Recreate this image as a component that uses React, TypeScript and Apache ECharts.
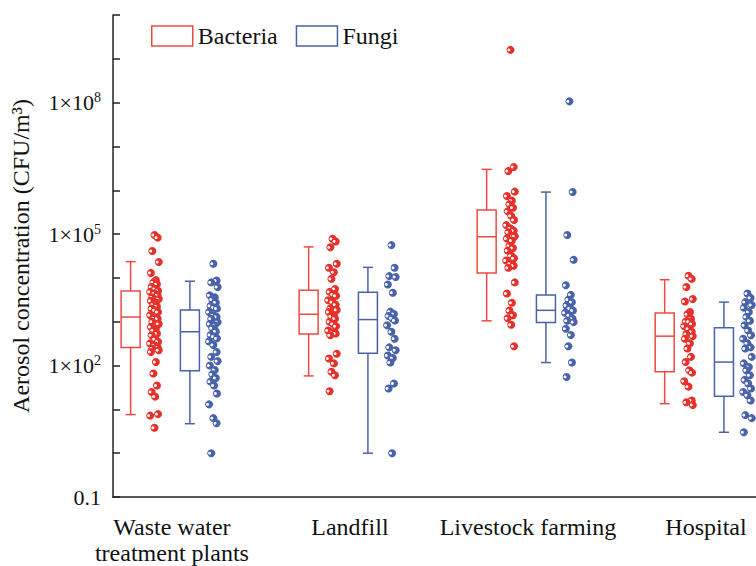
import React, { useEffect, useRef } from 'react';
import * as echarts from 'echarts';

// ---------- data ----------
const categories = ['Waste water\ntreatment plants', 'Landfill', 'Livestock farming', 'Hospital'];
const seriesNames = ['Bacteria', 'Fungi'];
const yLabelTicks = [0.1, 1e2, 1e5, 1e8];
const yMinorTicks = [0.1, 1, 10, 1e2, 1e3, 1e4, 1e5, 1e6, 1e7, 1e8, 1e9, 1e10];

// box statistics per category: [lower whisker, Q1, median, Q3, upper whisker]
const bacteriaBoxes = [
  [7.6, 257, 1280, 5000, 23500],
  [58, 525, 1480, 5250, 51000],
  [1050, 12900, 87000, 355000, 3000000],
  [13.5, 72, 468, 1580, 9100],
];
const fungiBoxes = [
  [4.7, 76, 590, 1860, 8400],
  [1, 190, 1120, 4700, 17400],
  [117, 955, 1820, 4070, 910000],
  [3.0, 20, 120, 725, 2800],
];

// individual observations
const wwtpBacteria = [95000, 83000, 41000, 23000, 13000, 8900, 7900, 7200, 6200, 5600, 5100, 4800, 4400, 4000, 3600, 3300, 3000, 2750, 2450, 2240, 2000, 1820, 1660, 1410, 1200, 1170, 1000, 890, 760, 690, 630, 540, 490, 400, 350, 320, 290, 260, 245, 224, 204, 120, 66, 35, 25, 19.5, 7.8, 7.2, 3.8];
const wwtpFungi = [21000, 8700, 7900, 6200, 4000, 3600, 3200, 2750, 2300, 2100, 2000, 1660, 1400, 1290, 1170, 980, 890, 830, 710, 600, 500, 457, 417, 355, 295, 204, 158, 126, 100, 79, 63, 52, 43, 35, 23, 13, 6.3, 4.8, 1];
const landfillBacteria = [78000, 68000, 50000, 21000, 17000, 13500, 9500, 5600, 4800, 4200, 3900, 3100, 2800, 2450, 2000, 1860, 1660, 1400, 1320, 1170, 1000, 890, 790, 630, 575, 540, 490, 186, 145, 112, 72, 60, 26];
const landfillFungi = [56000, 17000, 11000, 10500, 7100, 4600, 1700, 1500, 1350, 1200, 1070, 830, 590, 410, 260, 224, 170, 148, 117, 39, 30, 1];
const livestockBacteria = [1.6e9, 3.4e6, 2.75e6, 930000, 740000, 580000, 480000, 400000, 330000, 260000, 210000, 160000, 135000, 120000, 110000, 89000, 79000, 71000, 54000, 48000, 42000, 32000, 28000, 25000, 21000, 19000, 17000, 7900, 4400, 2700, 1800, 1400, 1200, 850, 275];
const livestockFungi = [1.07e8, 910000, 95000, 26000, 6800, 4100, 3200, 2800, 2350, 2000, 1800, 1600, 1400, 1170, 1050, 980, 690, 500, 275, 117, 55];
const hospitalBacteria = [11200, 9500, 6200, 3300, 2900, 1660, 1480, 1170, 1000, 1000, 890, 790, 690, 590, 525, 470, 410, 320, 245, 158, 120, 78, 69, 44, 33, 16, 14.5, 12.6];
const hospitalFungi = [4400, 3500, 2800, 2400, 2100, 1660, 1290, 1050, 830, 630, 490, 410, 320, 260, 245, 158, 112, 93, 78, 60, 47, 39, 30, 25, 21, 16, 7.4, 6.3, 3.0];

const bacteriaPoints = [wwtpBacteria, landfillBacteria, livestockBacteria, hospitalBacteria];
const fungiPoints = [wwtpFungi, landfillFungi, livestockFungi, hospitalFungi];

// ---------- styling / layout ----------
const RED = '#e8302a';
const RED_BOX = '#ee4a43';
const BLUE = '#4863aa';
const BLUE_BOX = '#4a62a8';
const FONT = "'Liberation Serif', 'Times New Roman', Times, serif";
const OFF = { bBox: -0.232, fBox: 0.101, bDots: -0.098, fDots: 0.233 };
const JITTER = [0, 0.018, -0.012, 0.024, -0.02, 0.008, -0.006, 0.014, -0.016, 0.004, 0.02, -0.024];
const X_MIN = -0.331;
const X_MAX = 3.281;

function dotColor(c: string) {
  return new echarts.graphic.RadialGradient(0.3, 0.5, 0.62, [
    { offset: 0, color: '#ffffff' },
    { offset: 0.2, color: '#ffffff' },
    { offset: 0.38, color: c },
    { offset: 1, color: c },
  ]);
}

function boxSeries(name: string, boxes: number[][], off: number, color: string) {
  return {
    name,
    type: 'custom',
    data: boxes.map((b, i) => [i + off, ...b]),
    encode: { x: 0, y: [1, 2, 3, 4, 5] },
    renderItem: (params: any, api: any) => {
      const x = api.value(0);
      const pMin = api.coord([x, api.value(1)]);
      const pQ1 = api.coord([x, api.value(2)]);
      const pMed = api.coord([x, api.value(3)]);
      const pQ3 = api.coord([x, api.value(4)]);
      const pMax = api.coord([x, api.value(5)]);
      const hw = 9.5;
      const cap = 5;
      const st = { stroke: color, lineWidth: 1.5, fill: 'none' };
      return {
        type: 'group',
        children: [
          { type: 'line', shape: { x1: pMin[0], y1: pMin[1], x2: pQ1[0], y2: pQ1[1] }, style: st },
          { type: 'line', shape: { x1: pQ3[0], y1: pQ3[1], x2: pMax[0], y2: pMax[1] }, style: st },
          { type: 'line', shape: { x1: pMin[0] - cap, y1: pMin[1], x2: pMin[0] + cap, y2: pMin[1] }, style: st },
          { type: 'line', shape: { x1: pMax[0] - cap, y1: pMax[1], x2: pMax[0] + cap, y2: pMax[1] }, style: st },
          { type: 'rect', shape: { x: pQ1[0] - hw, y: pQ3[1], width: hw * 2, height: pQ1[1] - pQ3[1] }, style: { stroke: color, lineWidth: 1.5, fill: '#ffffff' } },
          { type: 'line', shape: { x1: pMed[0] - hw, y1: pMed[1], x2: pMed[0] + hw, y2: pMed[1] }, style: st },
        ],
      };
    },
    z: 2,
  };
}

function dotSeries(name: string, groups: number[][], off: number, color: string) {
  const data: number[][] = [];
  groups.forEach((vals, g) => {
    vals.forEach((v, i) => data.push([g + off + JITTER[i % JITTER.length], v]));
  });
  return {
    name,
    type: 'scatter',
    data,
    symbol: 'circle',
    symbolSize: 8,
    itemStyle: { color: dotColor(color), opacity: 1 },
    z: 3,
  };
}

export default function App() {
  const ref = useRef<HTMLDivElement>(null);
  useEffect(() => {
    if (!ref.current) return;
    const chart = echarts.init(ref.current, null, { renderer: 'svg' });
    chart.setOption({
      animation: false,
      backgroundColor: '#ffffff',
      textStyle: { fontFamily: FONT },
      legend: {
        left: 146,
        top: 19,
        itemWidth: 41,
        itemHeight: 20,
        itemGap: 18,
        textStyle: { fontFamily: FONT, fontSize: 24, color: '#111' },
        data: [
          { name: seriesNames[0], icon: 'rect', itemStyle: { color: '#ffffff', borderColor: RED_BOX, borderWidth: 1.5 } },
          { name: seriesNames[1], icon: 'rect', itemStyle: { color: '#ffffff', borderColor: BLUE_BOX, borderWidth: 1.5 } },
        ],
      },
      grid: { left: 113, top: 15, right: 0, height: 484 },
      xAxis: {
        type: 'value',
        min: X_MIN,
        max: X_MAX,
        splitLine: { show: false },
        axisTick: { show: false },
        axisLine: { show: true, onZero: false, lineStyle: { color: '#222', width: 1.5 } },
        axisLabel: {
          customValues: [0, 1, 2, 3],
          formatter: (v: number) => categories[Math.round(v)] ?? '',
          fontFamily: FONT,
          fontSize: 24,
          lineHeight: 26,
          color: '#111',
          margin: 17,
        },
      },
      yAxis: {
        type: 'log',
        logBase: 10,
        min: 0.1,
        max: 1e10,
        name: 'Aerosol concentration (CFU/m³)',
        nameLocation: 'middle',
        nameGap: 80,
        nameTextStyle: { fontFamily: FONT, fontSize: 24, color: '#111' },
        splitLine: { show: false },
        axisLine: { show: true, onZero: false, lineStyle: { color: '#222', width: 1.5 } },
        axisTick: { show: true, inside: true, length: 7, customValues: yMinorTicks, lineStyle: { color: '#222', width: 1.5 } },
        axisLabel: {
          customValues: yLabelTicks,
          margin: 12,
          color: '#111',
          fontFamily: FONT,
          fontSize: 22,
          formatter: (v: number) => {
            const e = Math.round(Math.log10(v));
            if (e === -1) return '{b|0.1}';
            return '{b|1×10}{s|' + e + '}';
          },
          rich: {
            b: { fontFamily: FONT, fontSize: 22, color: '#111', lineHeight: 24 },
            s: { fontFamily: FONT, fontSize: 14, color: '#111', verticalAlign: 'top', lineHeight: 14 },
          },
        },
      },
      series: [
        boxSeries(seriesNames[0], bacteriaBoxes, OFF.bBox, RED_BOX),
        boxSeries(seriesNames[1], fungiBoxes, OFF.fBox, BLUE_BOX),
        dotSeries(seriesNames[0], bacteriaPoints, OFF.bDots, RED),
        dotSeries(seriesNames[1], fungiPoints, OFF.fDots, BLUE),
      ],
    });
    return () => chart.dispose();
  }, []);
  return <div ref={ref} style={{ position: 'fixed', left: 0, top: 0, width: 756, height: 566 }} />;
}
